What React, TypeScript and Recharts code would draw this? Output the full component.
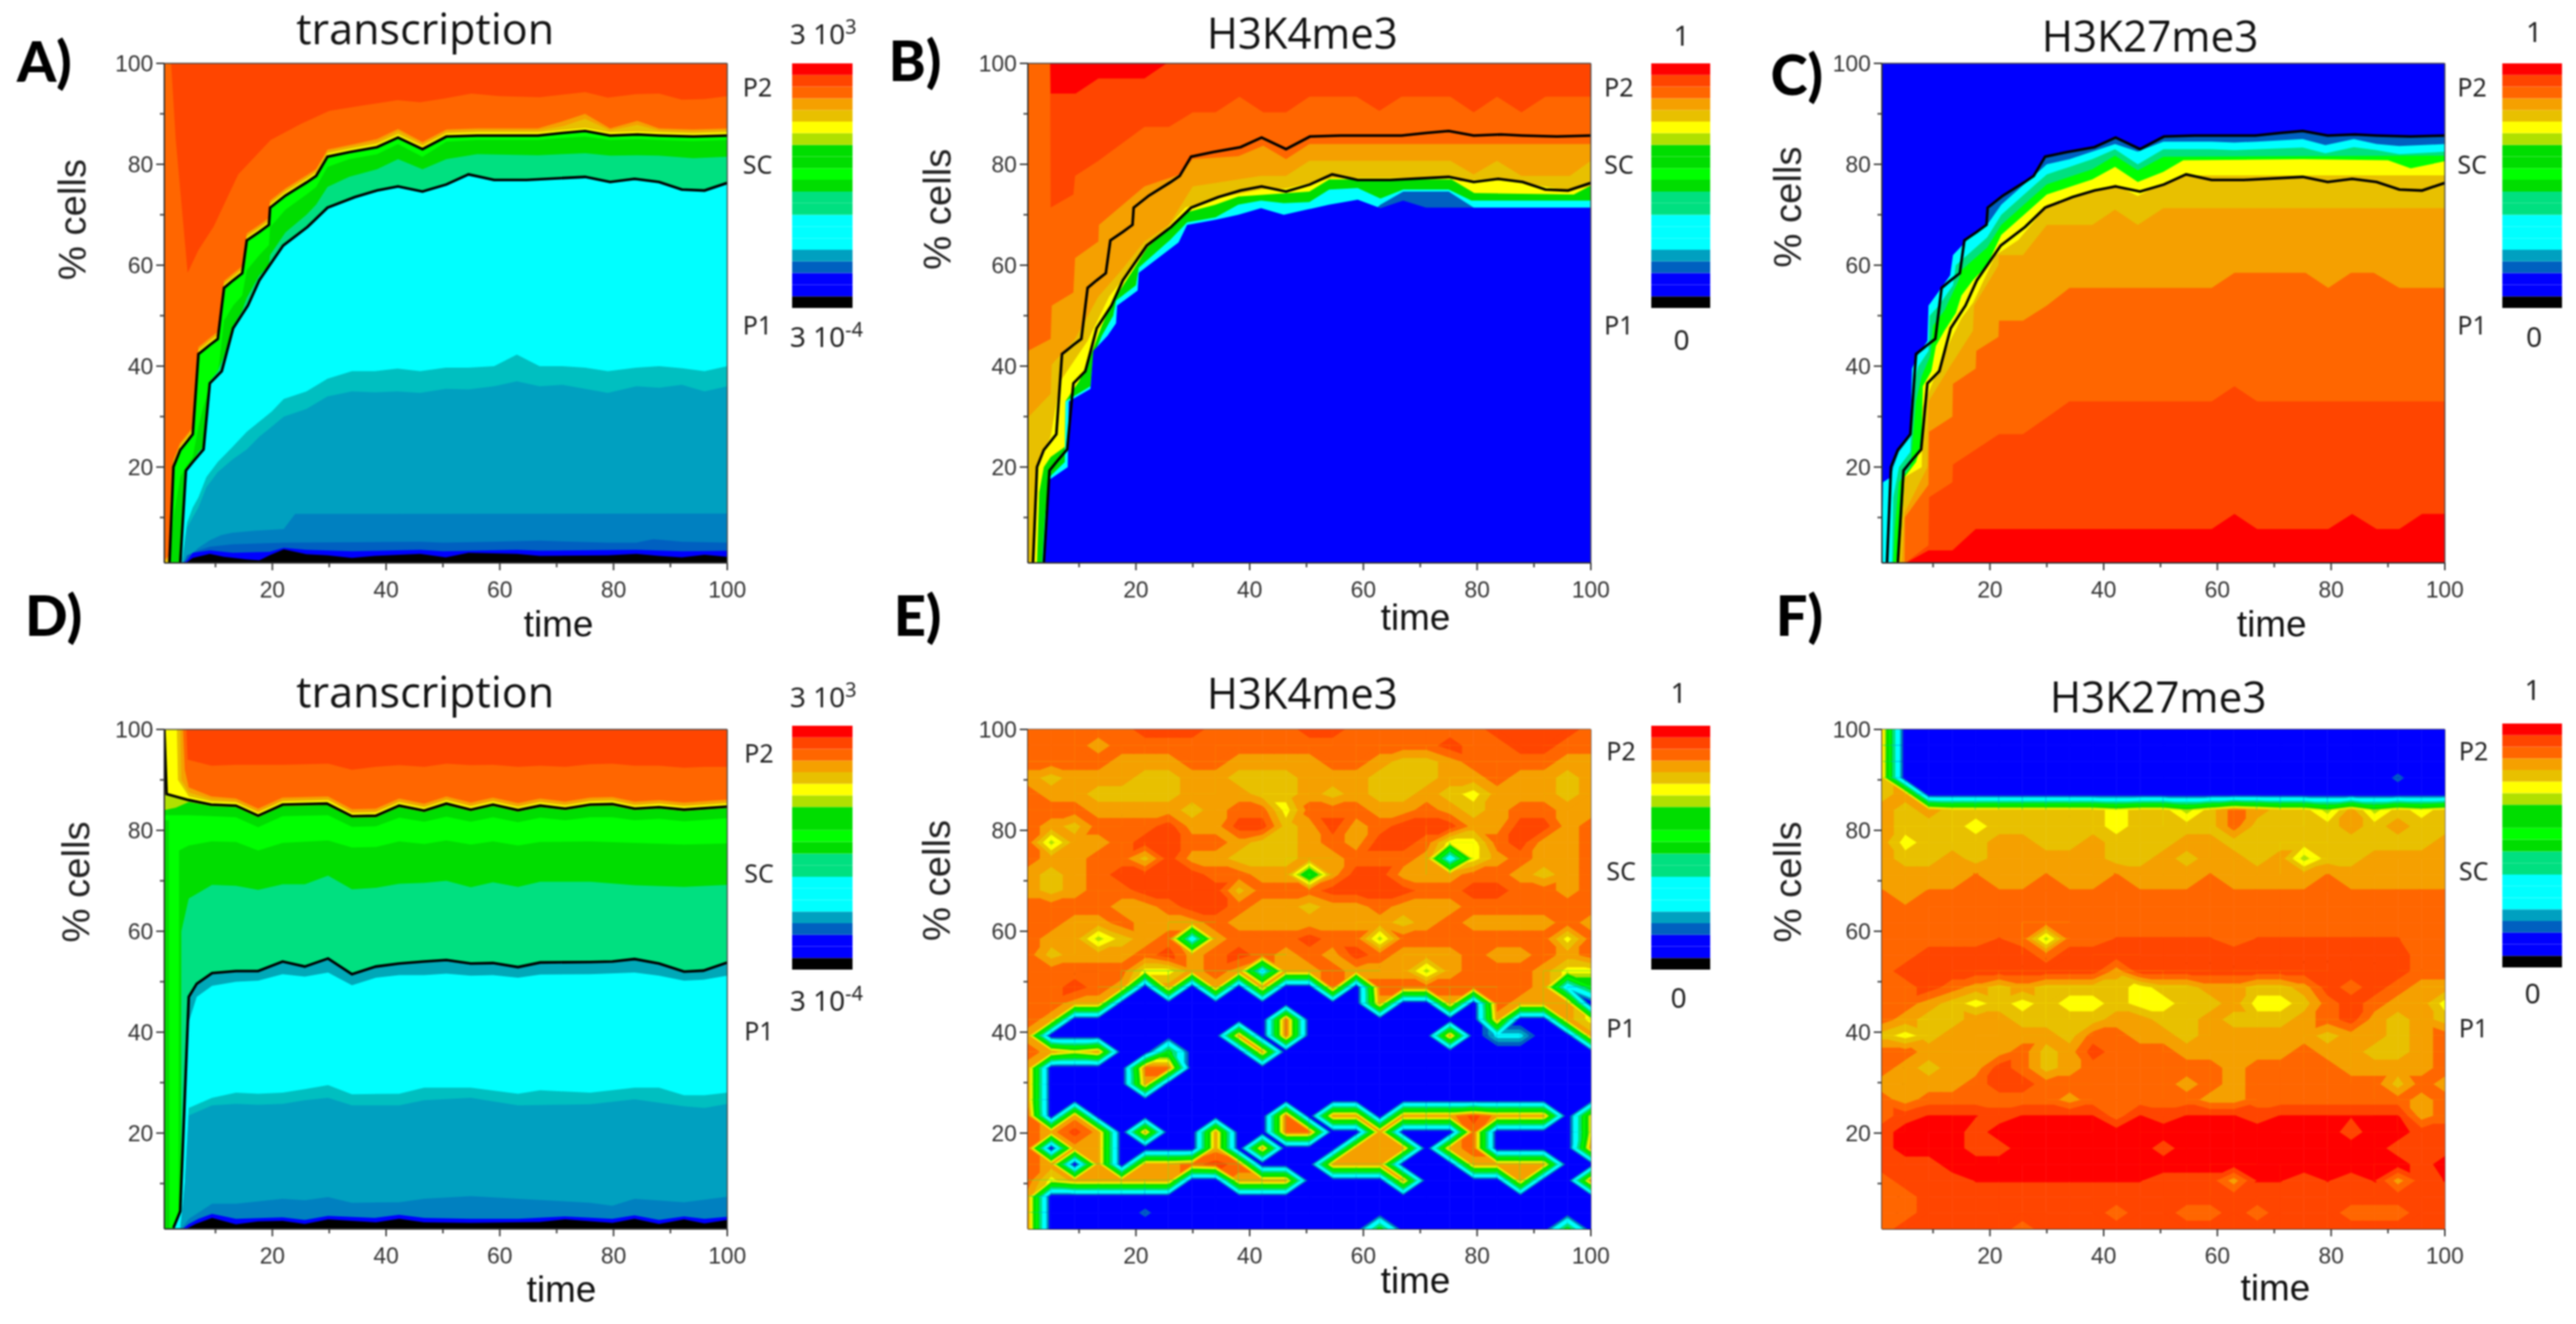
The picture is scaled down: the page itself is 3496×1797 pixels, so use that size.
import React from 'react';
import { ComposedChart, BarChart, Area, Line, Bar, Scatter, XAxis, YAxis, ReferenceLine } from 'recharts';

const C = { k: '#000000', b: '#0000ff', b2: '#0060c0', b3: '#0080c0', t1: '#00a0c0', t2: '#00bfc0', cy: '#00ffff', mi: '#00e080', gd: '#00dd00', gr: '#00ff00', li: '#b0e000', ye: '#ffff00', go: '#e8c000', am: '#f5a000', o1: '#ff6600', o2: '#ff4500', re: '#ff0000' };
const LEVEL_COLORS = [C.k, C.b, C.b, C.b2, C.t1, C.cy, C.cy, C.cy, C.mi, C.mi, C.gd, C.gr, C.gd, C.gd, C.li, C.ye, C.go, C.am, C.o1, C.o2, C.re];
const CHAR_LEVEL: Record<string, number> = { '.': 1.5, B: 3.5, c: 5.5, g: 11.5, l: 14.5, y: 15.5, d: 16.5, a: 17.5, n: 18.05, o: 18.5, m: 19.05, r: 19.5, Q: 20.05, R: 20.5 };

type Pair = number[];
const zip = (T: number[], Y: number[]) => T.map((t, i) => [t, Y[i]]);

// ---- boundary curves of the top row
const ABC_T = [1, 1.9, 2.6, 3.8, 4.8, 6, 7, 7.9, 9, 10.4, 11.5, 13.1, 14.7, 15.5, 17.7, 19.4, 19.6, 22.3, 26, 27.7, 29.7, 33.5, 38.4, 42.1, 46.4, 50.6, 56, 66.7, 71, 75, 79.4, 84.2, 88, 94, 100];
const ABC_U = [1, 1, 20, 23.4, 24.8, 26.5, 42.4, 43.2, 44.2, 45.4, 55.5, 57, 58.4, 64.9, 66.6, 68, 71.4, 73.8, 76.4, 77.7, 81.5, 82.4, 83.4, 85.3, 83, 85.5, 85.7, 85.7, 86.2, 86.6, 85.7, 85.9, 85.7, 85.5, 85.7];
const ABC_LT = [1, 3.8, 4.8, 6, 7, 7.9, 9, 11.1, 13.1, 15.7, 17.7, 21.9, 26.2, 29.7, 34.5, 38.4, 42.1, 46.4, 50.6, 54.5, 59, 64.7, 75, 79.4, 83.7, 88, 92, 96, 100];
const ABC_L = [1, 1, 19.3, 21, 22.3, 23.5, 36.6, 39, 47.5, 52, 57, 63.9, 67.6, 71.4, 73.5, 74.8, 75.6, 74.6, 76, 78, 76.9, 76.9, 77.5, 76.5, 77.1, 76.5, 75, 74.8, 76.3];

const A_O1: Pair[] = [[1, 100], [2.2, 100], [3, 85], [5.1, 58.5], [7, 63], [9.7, 67.7], [14, 78], [19.7, 84.8], [25, 88], [30, 90.6], [35.6, 91.6], [42, 92.7], [46, 92.3], [50, 93], [55, 94], [60, 93.5], [67, 93.3], [75, 94.3], [79, 93.2], [84, 93.9], [88, 94], [92, 92.8], [96, 92.9], [100, 93.5]];
const A_AM = [1.6, 2.5, 21.4, 24.8, 26.2, 27.9, 43.8, 44.6, 45.6, 46.8, 56.9, 58.4, 59.8, 66.3, 68, 69.4, 72.8, 75.2, 77.8, 79.1, 82.9, 83.8, 85, 87, 84.4, 86.9, 87.1, 87.1, 88.5, 90, 87.1, 88.6, 87.1, 86.9, 87.1];
const A_GO = [1.3, 2, 21, 24.4, 25.8, 27.5, 43.4, 44.2, 45.2, 46.4, 56.5, 58, 59.4, 65.9, 67.6, 69, 72.4, 74.8, 77.4, 78.7, 82.5, 83.4, 84.4, 86.5, 84, 86.5, 86.7, 86.7, 87.5, 89, 86.7, 87.8, 86.7, 86.5, 86.7];
const A_YE = [1, 1.5, 20.6, 24, 25.4, 27.1, 43, 43.8, 44.8, 46, 56.1, 57.6, 59, 65.5, 67.2, 68.6, 72, 74.4, 77, 78.3, 82.1, 83, 84, 85.9, 83.6, 86.1, 86.3, 86.3, 86.8, 87.2, 86.3, 86.5, 86.3, 86.1, 86.3];
const A_GD = [1, 1, 10, 18, 20, 22, 28, 32, 36, 38, 49, 52, 54, 59, 62, 64, 67.5, 71, 74, 75.5, 79.5, 81, 82, 84, 81.5, 84.5, 84.8, 84.8, 85.2, 85.5, 84.8, 85, 84.8, 84.6, 84.8];
const A_MI = [1, 1, 1, 1, 19.3, 21, 23, 24, 37, 39, 42, 48, 51, 53.5, 58, 60, 62, 66.5, 70, 72, 75.5, 77.5, 79, 81, 79, 81, 82, 81.8, 82, 82.2, 81.7, 81.8, 81.7, 81.2, 81.5];
const A_T2: Pair[] = [[1, 1], [4, 1], [5, 9], [6, 12], [7, 14], [8.4, 18], [10.4, 21], [13, 24], [15.5, 27], [17.7, 29], [19.9, 31], [22, 33.5], [26, 35], [29.7, 37.5], [34, 39], [38, 39], [42, 39.5], [46, 39], [50.5, 39.7], [54.5, 39.7], [59, 40], [63, 42.3], [67, 40], [71, 40], [75, 39.7], [79, 39], [84, 39.7], [88, 40], [92, 39.6], [96, 39], [100, 40]];
const A_T1: Pair[] = [[1, 1], [4.2, 1], [5, 8], [6, 10], [7, 12], [8.4, 16], [10.4, 19], [13, 21.5], [15.5, 23.5], [17.7, 26], [19.9, 28], [22, 30], [26, 31.5], [29.7, 34], [34, 35], [38, 34.8], [42, 35], [46, 34.7], [50.5, 35.5], [54.5, 35.4], [59, 36], [63, 37], [67, 36], [71, 36.3], [75, 35.5], [79, 34.7], [84, 36], [88, 35.7], [92, 36.3], [96, 35], [100, 36]];
const A_B3: Pair[] = [[1, 1], [4.2, 1], [5, 2], [7, 4], [9, 5.5], [11, 6.5], [13, 7], [17, 7.4], [22, 7.7], [24, 10.7], [100, 10.8]];
const A_B2: Pair[] = [[1, 1], [4.4, 1], [5, 2.5], [7, 3.5], [9, 4.2], [13, 4.7], [22, 5], [46, 5.2], [50, 5], [59, 5.2], [67, 5.4], [79, 5], [84, 5], [87, 5.7], [92, 5.2], [100, 5]];
const A_B1: Pair[] = [[1, 1], [4.4, 1], [5, 1.5], [6, 3], [9, 3.5], [13, 3], [19.5, 3.2], [22, 4], [26, 3.6], [34, 3.3], [46, 3.6], [50, 3.3], [63, 3.6], [67, 3.4], [84, 3.6], [92, 3.3], [100, 3.4]];
const A_K: Pair[] = [[1, 1], [4.8, 1], [6, 2], [9, 2.8], [11.5, 2.2], [15.5, 1.7], [17.7, 1.5], [19.5, 2.5], [22, 3.7], [26, 2.7], [29.7, 2.5], [34, 2], [38, 2.4], [46, 2.8], [50.5, 2.1], [54.5, 3], [63, 2.8], [67, 2.4], [79, 2.5], [84, 2.8], [88, 2.4], [92, 2.1], [96, 2.6], [100, 2.2]];

const B_O2: Pair[] = [[1, 100], [4.9, 100], [5, 94], [9.4, 94], [13.4, 97], [21.5, 97], [25.4, 100], [100, 100]];
const B_O1: Pair[] = [[1, 100], [4.9, 100], [5, 71.4], [9, 74], [9.3, 77.7], [13.4, 80.7], [21.5, 87.4], [25.8, 87.4], [30, 90.3], [34, 90.3], [38.2, 93.4], [42.4, 90.3], [46.4, 90.3], [50.5, 93.4], [58.8, 93.4], [62.8, 90.6], [66.7, 93.4], [75.3, 93.4], [79.4, 90.3], [83.5, 93.4], [87.8, 90.3], [92, 93.4], [100, 93.4]];
const B_AM: Pair[] = [[1, 43], [5, 45.4], [5.2, 52], [9, 54.6], [9.3, 61.4], [13.4, 64.7], [13.5, 68], [21.5, 75.6], [27.7, 78], [30, 81], [38, 81.6], [42.4, 83.7], [46.4, 81], [50.5, 84], [100, 84]];
const B_GO: Pair[] = [[1, 29.8], [5, 34.5], [5.2, 40.3], [9.3, 45.4], [13.4, 53.8], [17.3, 58.8], [21.5, 64.7], [25.8, 68], [30, 75.6], [42, 77.7], [46.4, 77.7], [50.5, 80.7], [75.3, 80.7], [79.4, 78], [83.5, 80.7], [87.8, 77.7], [96.3, 77.7], [100, 80.7]];
const B_YE: Pair[] = [[1, 1], [2, 1], [2.6, 20], [3.8, 23], [5, 26], [6.7, 37], [11.5, 45], [15.3, 53.8], [20, 60.5], [28.7, 71.4], [34.5, 73.4], [42, 75], [46.4, 75.2], [54.6, 77.3], [75.8, 77.3], [77, 76.6], [83.5, 77.3], [88, 76.3], [96, 74.8], [100, 75.6]];
const B_GD: Pair[] = [[1, 1], [2.6, 1], [3, 15], [3.8, 20], [5, 22], [7.5, 24], [7.6, 33], [10, 37], [12, 42], [14, 48], [16, 53], [19.5, 59], [22, 63.5], [26, 67.5], [29, 70.5], [34, 72], [38, 73.6], [50.5, 74.6], [54, 77], [75.5, 77], [79.5, 74.3], [97, 74], [100, 75.8]];
const B_CY: Pair[] = [[1, 1], [3.5, 1], [4, 10], [4.8, 18], [7.5, 21], [7.6, 33], [12, 36], [12.5, 42], [14, 46], [16, 50], [16.5, 53], [20, 56], [20.5, 59.5], [26, 65], [29, 68.5], [34, 69.5], [38, 72], [42, 72.8], [46, 72.3], [50.5, 72.5], [54, 75], [59, 75.3], [63, 73.2], [67, 75], [75, 75], [79, 72.8], [100, 72.8]];
const B_B2: Pair[] = [[62, 71], [63, 72], [67, 74.6], [75, 74.6], [79.3, 71.5], [80, 71]];
const B_B1: Pair[] = [[1, 1], [3.8, 1], [4.8, 17.5], [8, 20], [8.2, 33], [12, 35.5], [12.5, 43], [15, 46], [16.5, 48.5], [16.7, 52], [20.3, 55], [20.5, 58.5], [27.5, 64.5], [29, 68], [34, 69], [38, 70], [42, 71.3], [46, 70], [50, 71], [54, 72], [59, 73], [63, 71.3], [67, 72.8], [71, 71.4], [100, 71.4]];

const C_CY: Pair[] = [[1, 1], [1.2, 17], [2.6, 18], [3, 20], [4, 23], [6, 26], [6.3, 39.5], [7.2, 42], [9, 45], [9.2, 52], [10.5, 54], [13, 58], [13.5, 62], [16, 65], [19.5, 68], [22, 72], [26, 76], [28, 78], [30, 80], [34, 81], [38, 82.5], [42, 84], [46, 82.5], [50.5, 84.5], [59, 84.5], [63, 84.3], [67, 84.5], [75, 85], [79, 83.8], [84, 85], [88, 84], [92, 83.6], [100, 84]];
const C_MI: Pair[] = [[1, 1], [2.8, 1], [3, 14], [4, 20], [6, 23], [6.5, 36], [7.4, 40], [9.2, 43], [9.4, 50], [11, 52], [13.5, 56], [14, 60], [16, 62], [19.5, 65.5], [22, 70], [26, 74], [28, 76], [30, 78], [34, 79.5], [38, 81], [42, 83], [46, 80], [50.5, 83], [59, 83], [63, 82.8], [75, 83.3], [79, 82.2], [84, 83.4], [88, 82.8], [92, 82], [100, 82.5]];
const C_GR: Pair[] = [[1, 1], [3, 1], [3.3, 8], [4, 17], [6, 20], [7, 33], [8, 38], [9.5, 42], [10, 48], [12, 51], [14.5, 57], [15, 59], [17, 61], [19.5, 63.5], [22, 68], [26, 72], [28, 74], [30, 76], [34, 77.5], [38, 79], [42, 81.7], [46, 78.8], [50.5, 81.5], [100, 81.7]];
const C_YE: Pair[] = [[1, 1], [3.5, 1], [4.8, 10], [5, 18], [7, 21], [8, 25], [8.2, 36], [9.7, 39], [10.5, 44], [12, 47], [14, 50.5], [15, 54], [17, 57], [19.5, 60], [22, 66], [26, 70], [28, 72], [30, 74], [34, 75.5], [38, 77], [42, 79.5], [46, 76.5], [50.5, 78.5], [54, 80.8], [75, 81], [90, 80.8], [94, 79.2], [100, 80.6]];
const C_GO: Pair[] = [[1, 1], [4, 1], [5, 18], [8, 20], [8.2, 32], [10, 37], [13, 45], [15, 49.5], [17, 52.5], [21, 62], [25, 65], [28, 69], [30, 72], [34, 73], [42, 76], [46, 73.7], [50, 76], [54, 77.8], [100, 77.8]];
const C_AM: Pair[] = [[1, 1], [4.5, 1], [5, 11], [9, 20], [9.2, 33], [13, 40], [17, 47], [17.2, 52], [21.5, 60], [21.6, 62], [25.8, 62], [30, 68], [38, 68], [42, 71], [46, 68], [50.5, 71.3], [100, 71.3]];
const C_O1: Pair[] = [[5, 1], [5.05, 10], [9.2, 16.5], [9.3, 27], [13.4, 30], [13.5, 36.5], [17.5, 39.5], [17.6, 43], [21.5, 45.8], [21.6, 49], [25.8, 49], [30, 52], [34, 55.5], [59, 55.5], [63, 58.5], [75.5, 58.5], [79.5, 55.5], [83.5, 58.5], [87.5, 58.5], [92, 55.5], [100, 55.5]];
const C_O2: Pair[] = [[5.1, 1], [9.2, 4.5], [9.3, 14], [13.4, 17], [13.5, 20.5], [21.6, 26.5], [25.8, 26.5], [34, 33], [59, 33], [63, 36], [67, 33], [100, 33]];
const C_RE: Pair[] = [[5.2, 1], [9.2, 3.5], [13.4, 3.5], [17.5, 7.7], [59, 7.7], [63, 10.7], [67, 7.7], [79.5, 7.7], [83.7, 10.7], [88, 7.7], [92, 7.7], [96, 10.7], [100, 10.7]];

// ---- boundary curves of the bottom row
const DEF_T = [1, 1.4, 5.3, 9.2, 13.6, 17.5, 21.8, 29.6, 34, 38.2, 42.3, 46.7, 50.6, 54.9, 58.8, 63.2, 67.1, 71.5, 75.9, 79.8, 83.7, 88, 92.4, 100];
const DEF_U = [100, 87.2, 86, 85.1, 84.9, 82.9, 85.1, 85.3, 82.8, 82.9, 84.9, 83.9, 85.3, 84.1, 85.1, 84, 84.9, 84.3, 85.1, 85.2, 84.3, 84.6, 84.1, 84.7];
const DEF_LT = [2.6, 3.8, 5.3, 6.7, 9.4, 13.6, 17.5, 21.8, 25.7, 29.8, 34, 38.2, 42.3, 46.7, 50.6, 54.9, 58.8, 63.2, 67.1, 75.9, 79.8, 83.7, 88, 92.4, 95.8, 100];
const DEF_L = [1.2, 4.5, 47, 49.6, 51.7, 52.1, 52.1, 54, 53, 54.6, 51.5, 53, 53.6, 54, 54.3, 53.6, 53.7, 52.9, 53.8, 53.9, 54, 54.5, 53.6, 52, 52.2, 53.8];

const D_O1: Pair[] = [[1, 100], [4.9, 100], [5.1, 94], [9.3, 92.8], [13.6, 93], [17.5, 93], [21.8, 93], [29.8, 93.2], [34, 92], [38.2, 92.6], [42.3, 92.9], [46.7, 92.6], [50.6, 93.2], [54.9, 92.9], [58.8, 93], [63.2, 92.6], [67.1, 92.8], [71.5, 92.6], [75.9, 93.1], [79.8, 93.2], [83.7, 92.8], [88, 92.8], [92.4, 92.4], [96, 92.6], [100, 92.6]];
const D_AM: Pair[] = [[1, 100], [4.3, 100], [4.6, 92], [5.3, 88.5], [9.3, 86.7], [13.6, 86.3], [17.5, 84.3], [21.8, 86.5], [29.8, 86.7], [34, 84.2], [38.2, 84.3], [42.3, 86.3], [46.7, 85.3], [50.6, 86.7], [54.9, 85.5], [58.8, 86.5], [63.2, 85.4], [67.1, 86.3], [71.5, 85.7], [75.9, 86.5], [79.8, 86.6], [83.7, 85.7], [88, 86], [92.4, 85.5], [100, 86.1]];
const D_GO: Pair[] = [[1, 100], [3.8, 100], [4, 90], [5.3, 87.5], [9.3, 86.1], [13.6, 85.8], [17.5, 83.8], [21.8, 86], [29.8, 86.2], [34, 83.7], [38.2, 83.8], [42.3, 85.8], [46.7, 84.8], [50.6, 86.2], [54.9, 85], [58.8, 86], [63.2, 84.9], [67.1, 85.8], [71.5, 85.2], [75.9, 86], [79.8, 86.1], [83.7, 85.2], [88, 85.5], [92.4, 85], [100, 85.6]];
const D_YE: Pair[] = [[1, 100], [3.2, 100], [3.4, 90], [5.3, 86.7], [9.3, 85.7], [13.6, 85.5], [17.5, 83.5], [21.8, 85.7], [29.8, 85.9], [34, 83.4], [38.2, 83.5], [42.3, 85.5], [46.7, 84.5], [50.6, 85.9], [54.9, 84.7], [58.8, 85.7], [63.2, 84.6], [67.1, 85.5], [71.5, 84.9], [75.9, 85.7], [79.8, 85.8], [83.7, 84.9], [88, 85.2], [92.4, 84.7], [100, 85.3]];
const D_LI: Pair[] = [[1, 87], [1.4, 87.2], [5.3, 86], [9.2, 85.1], [13.6, 84.9], [17.5, 82.9], [21.8, 85.1], [29.6, 85.3], [34, 82.8], [38.2, 82.9], [42.3, 84.9], [46.7, 83.9], [50.6, 85.3], [54.9, 84.1], [58.8, 85.1], [63.2, 84], [67.1, 84.9], [71.5, 84.3], [75.9, 85.1], [79.8, 85.2], [83.7, 84.3], [88, 84.6], [92.4, 84.1], [100, 84.7]];
const D_GD1: Pair[] = [[1, 84], [3, 84.5], [5.3, 85.6], [9.2, 84.8], [13.6, 84.6], [17.5, 82.6], [21.8, 84.8], [29.6, 85], [34, 82.5], [38.2, 82.6], [42.3, 84.6], [46.7, 83.6], [50.6, 85], [54.9, 83.8], [58.8, 84.8], [63.2, 83.7], [67.1, 84.6], [71.5, 84], [75.9, 84.8], [79.8, 84.9], [83.7, 84], [88, 84.3], [92.4, 83.8], [100, 84.4]];
const D_GR: Pair[] = [[1, 83], [5.3, 83], [9.3, 82.8], [13.6, 82.6], [17.5, 80.6], [21.8, 82.8], [29.8, 83], [34, 80.7], [38.2, 80.8], [42.3, 82.5], [46.7, 81.7], [50.6, 82.7], [54.9, 81.7], [58.8, 82.6], [63.2, 81.6], [67.1, 82.5], [71.5, 82], [75.9, 82.6], [79.8, 82.6], [83.7, 82], [88, 82.3], [92.4, 81.8], [100, 82.4]];
const D_GD2: Pair[] = [[1, 1], [3.5, 1], [3.6, 76], [5.3, 77], [9.3, 77.8], [13.6, 77.7], [17.5, 76], [21.8, 77.5], [29.8, 78], [34, 76.6], [38.2, 76.7], [42.3, 77.8], [46.7, 77.3], [50.6, 78], [54.9, 77.2], [58.8, 77.8], [63.2, 77], [67.1, 77.7], [75.9, 77.8], [83.7, 77.5], [92.4, 77.2], [100, 77.4]];
const D_GDL: Pair[] = [[1, 82], [1.8, 82], [1.9, 1]];
const D_MI: Pair[] = [[1, 1], [3.9, 1], [4, 60], [5.3, 66.5], [9.4, 69.2], [13.6, 69], [17.5, 68.2], [21.8, 69.3], [25.7, 69.3], [29.8, 71], [34, 68.3], [38.2, 68.6], [42.3, 69.4], [46.7, 69.6], [50.6, 70], [54.9, 68.7], [58.8, 69.7], [63.2, 68.8], [67.1, 69.8], [75.9, 69.8], [83.7, 69.1], [92.4, 68.8], [100, 69.2]];
const D_CY: Pair[] = [[1, 1], [2.6, 1], [3.8, 4], [4.8, 30], [5.3, 42], [6.7, 47], [9.4, 49.2], [13.6, 50], [17.5, 50.2], [21.8, 51.5], [25.7, 51], [29.8, 51.8], [34, 49.3], [38.2, 50.8], [42.3, 51.3], [46.7, 51.3], [50.6, 51.6], [54.9, 51.2], [58.8, 51.3], [63.2, 50.8], [67.1, 51.4], [75.9, 51.5], [83.7, 51.8], [88, 51.2], [92.4, 50.2], [95.8, 50.4], [100, 51.2]];
const D_T2: Pair[] = [[1, 1], [3.8, 1], [4.6, 10], [5.3, 25], [9.4, 27], [13.6, 28], [17.5, 27.8], [21.8, 28], [25.7, 28.7], [29.8, 29.5], [34, 27.7], [42.3, 27.8], [46.7, 29], [54.9, 29], [63.2, 27.8], [67.1, 28.5], [75.9, 28], [83.7, 29], [88, 29], [92.4, 27.5], [96, 27.5], [100, 28]];
const D_T1: Pair[] = [[1, 1], [3.8, 1], [4.6, 10], [5.3, 23.5], [9.4, 25.5], [13.6, 25.8], [17.5, 25.6], [21.8, 25.8], [25.7, 26.5], [29.8, 27], [34, 25.5], [42.3, 25.5], [46.7, 26.5], [54.9, 27], [63.2, 25.5], [75.9, 25.7], [83.7, 26.7], [92.4, 25.3], [96, 25], [100, 25.8]];
const D_B3: Pair[] = [[1, 1], [4, 1], [5.3, 3], [9.4, 6], [13.6, 6], [21.8, 7], [25.7, 6.7], [29.8, 7.3], [34, 6.2], [42.3, 6.3], [46.7, 7], [54.9, 7.5], [63.2, 7], [75.9, 6.2], [79.8, 5.6], [83.7, 7], [92.4, 6.3], [100, 7.4]];
const D_B1: Pair[] = [[1, 1], [4.2, 1], [5.3, 2], [7, 3], [9.4, 4], [13.6, 3], [21.8, 3.3], [25.7, 2.8], [29.8, 3.6], [38, 3.2], [42.3, 3.8], [46.7, 3.2], [54.9, 3], [63.2, 3], [71.5, 3.5], [79.8, 3], [83.7, 3.7], [88, 2.8], [92.4, 3.5], [96, 3], [100, 3.4]];
const D_K: Pair[] = [[1, 1], [4.8, 1], [6.5, 2], [9.4, 3.2], [13.6, 1.9], [17.5, 2.5], [21.8, 2.6], [25.7, 2], [29.8, 2.9], [38.2, 2.3], [42.3, 3], [46.7, 2.3], [54.9, 2.2], [67, 2.4], [71.5, 2.9], [79.8, 2.2], [83.7, 3], [88, 2], [92.4, 2.9], [96, 2.1], [100, 2.8]];

// ---- contour grids of panels E and F (top row first)
const GRID_T = [1, 5.1, 9.25, 13.4, 17.5, 21.6, 25.75, 29.9, 34, 38.1, 42.25, 46.4, 50.5, 54.6, 58.75, 62.9, 67, 71.1, 75.25, 79.4, 83.5, 87.6, 91.75, 95.9, 100];
const GRID_Y = [100, 96.8, 93.6, 90.4, 87.2, 84, 80.8, 77.6, 74.4, 71.2, 68, 64.9, 61.7, 58.5, 55.3, 52.1, 48.9, 45.7, 42.5, 39.3, 36.1, 32.9, 29.7, 26.5, 23.4, 20.2, 17, 13.8, 10.6, 7.4, 4.2, 1];
const E_ROWS = [
  'ooooo rrroo oorro ooooo rrrro', 'oooao ooooo ooooo oooro orroo', 'ooooa aaooa aaaoo addao oooaa', 'adaaa ddaad ddaaa dddaa oaada',
  'oaadd ddaaa ddada ddady aaada', 'oooaa aadao oyooo aaoad aooaa', 'oadoo oraar rdara orrra arrao', 'olaao rrooa ddaoa rroyy oraao',
  'oaaoo draad ddaao ooacy aoaao', 'adaor rrroo aagar raaao oadao', 'adaoo rrrrd ooorr rroor rooao', 'ooooa aorro aadaa oaaao ooooo',
  'ooaao aaaoa aaaaa adaoa aaaoa', 'oaald aocao ooroo loooo oooyo', 'odaaa oraor oaoar oaaao aaoao', 'ooooo yyaoa caaoa aalao ooayy',
  'ooroa .a.a. a..o. ooooo ooacg', 'ooaa. ..... ..... a..a. oaaa.', 'oa... ..... .o... ..... a..ay', 'a.... ....a .o... ...a. cc..a',
  'oaya. .g... a.... ..... .....', 'a.... oo... ..... ..... .....', 'a.... a.... ..... ..... .....', 'a.... ..... ..... ..... .....',
  'o.a.. ..... .o.aa .aaar aaa.y', 'oara. a..a. .oo.. a...o ....y', 'o.aa. ...a. a...a aa.ao ....a', 'oa.a. aaoro ...aa a...a aaa..',
  'oyaaa aa..a aa... .a... .a..o', 'a.... ..... ..... ..... .....', 'a.... B.... ..... ..... .....', 'a.... ..... ..... g.... ...g.',
];
const F_ROWS = [
  'd.... ..... ..... ..... .....', 'd.... ..... ..... ..... .....', 'd.... ..... ..... ..... .....', 'd.... ..... ..... ..... ..B..',
  'da... ..... ..... ..... .....', 'adadd ddddd yddld oaddl aldyd', 'adddy ddddd ydddd odddd adadd', 'ayddd aadda dddaa ddddd dddda',
  'addad aaaaa ddada adald daaaa', 'aaaan aanaa naaan aaaan aaaaa', 'nannn nnnnn nnnnn nnnnn nnnnn', 'onooo ooooo ooooo ooooo ooooo',
  'ooooo ooooo ooooo ooooo ooooo', 'ooooo moloo mmmmm ommmm mmmoo', 'oorrr rrorr rrrrr rrrrr rrroo', 'orrrr rrrrr arrrr rrrrr rrroo',
  'ooroa daddd dydda addar oroaa', 'ooady dydyy dyydd ayydo roaay', 'oadda adddd aadda dddao radad', 'dydaa aaado oaada aaaad aadao',
  'ooaaa aodar oooaa aaaoa addao', 'oadaa rodao ooooo aoooo aaaao', 'aaaao rrooo oooao aoooo oodoa', 'oaooo oooao ooooa aoooo oooao',
  'orQQQ rQQQQ oQrQQ QrQQQ QQQao', 'rRRRr RRRRR RRRRR RRRRR rRRrr', 'rRRRr rRRRR RRrRR RRRRR RRrrr', 'rrrRR RRRRR RRRRR RRRRR RRRrR',
  'orrrQ QQQQQ QQrrr aQQrQ rQarQ', 'oorrr rrrrr rrrrr rrrrr rrrrr', 'oorrr rrrrr orroo rorrr ooorr', 'orrrr rorrr rrrrr rrrrr rrrrr',
];

const COLORBAR_KEYS = LEVEL_COLORS.map((_, i) => 'l' + i);
const COLORBAR_VALUES = LEVEL_COLORS.map(() => 1);
const X_TICKS = [10, 20, 30, 40, 50, 60, 70, 80, 90, 100];
const Y_TICKS = [10, 20, 30, 40, 50, 60, 70, 80, 90, 100];

const PW = 764, PH = 678;
const pts = (pairs: Pair[]) => pairs.map(([t, y]) => ({ t, y }));

function gridPoints(rows: string[]) {
  const m = rows.map((r) => r.replace(/ /g, '').split('').map((c) => CHAR_LEVEL[c]));
  const out: any[] = [];
  for (let i = 0; i < m.length - 1; i++) {
    for (let j = 0; j < GRID_T.length - 1; j++) {
      out.push({ t: GRID_T[j], y: GRID_Y[i + 1], v: [m[i + 1][j], m[i + 1][j + 1], m[i][j + 1], m[i][j]] });
    }
  }
  return out;
}

function clipAbove(tri: number[][], l: number) {
  const res: number[][] = [];
  for (let i = 0; i < 3; i++) {
    const a = tri[i], b = tri[(i + 1) % 3];
    if (a[2] >= l) res.push(a);
    if ((a[2] >= l) !== (b[2] >= l)) {
      const f = (l - a[2]) / (b[2] - a[2]);
      res.push([a[0] + f * (b[0] - a[0]), a[1] + f * (b[1] - a[1]), l]);
    }
  }
  return res;
}

function ContourCell(props: any) {
  const { cx, cy, payload } = props;
  const dx = PW / 24, dy = PH / 31;
  const [a, b, c, d] = payload.v;
  const bl = [cx, cy, a], br = [cx + dx, cy, b], tr = [cx + dx, cy - dy, c], tl = [cx, cy - dy, d];
  const sBD = Math.abs(b - d), sAC = Math.abs(a - c);
  const useBD = Math.abs(sBD - sAC) < 0.01 ? b + d >= a + c : sBD < sAC;
  const tris = useBD ? [[bl, br, tl], [br, tr, tl]] : [[bl, br, tr], [bl, tr, tl]];
  const lo = Math.floor(Math.min(a, b, c, d)), hi = Math.floor(Math.max(a, b, c, d));
  const parts: any[] = [<rect key="b" x={cx} y={cy - dy} width={dx} height={dy} fill={LEVEL_COLORS[lo]} stroke={LEVEL_COLORS[lo]} strokeWidth={0.6} />];
  for (let l = lo + 1; l <= hi; l++) {
    if (LEVEL_COLORS[l] === LEVEL_COLORS[l - 1]) continue;
    let path = '';
    tris.forEach((t) => {
      const poly = clipAbove(t, l);
      if (poly.length > 2) path += 'M' + poly.map((p) => p[0].toFixed(1) + ' ' + p[1].toFixed(1)).join('L') + 'Z';
    });
    if (path) parts.push(<path key={l} d={path} fill={LEVEL_COLORS[l]} stroke={LEVEL_COLORS[l]} strokeWidth={0.6} />);
  }
  return <g>{parts}</g>;
}

const TICK_STYLE = { fontFamily: '"Liberation Sans", Arial, sans-serif', fontSize: 31, fill: '#333' };
function XTick({ x, y, payload }: any) {
  const major = payload.value % 20 === 0;
  return (
    <g>
      <line x1={x} x2={x} y1={y} y2={y + (major ? 10 : 6)} stroke="#333" strokeWidth={2} />
      {major && <text x={x} y={y + 47} textAnchor="middle" {...TICK_STYLE}>{payload.value}</text>}
    </g>
  );
}
function YTick({ x, y, payload }: any) {
  const major = payload.value % 20 === 0;
  return (
    <g>
      <line x1={x} x2={x - (major ? 11 : 6)} y1={y} y2={y} stroke="#333" strokeWidth={2} />
      {major && <text x={x - 15} y={y + 11} textAnchor="end" {...TICK_STYLE}>{payload.value}</text>}
    </g>
  );
}

type BandDef = [Pair[], string];
function Panel({ left, top, bands, grid, lineU, lineL }: { left: number; top: number; bands?: BandDef[]; grid?: any[]; lineU: Pair[]; lineL: Pair[] }) {
  const ml = 100, mt = 30, mr = 40, mb = 70;
  return (
    <div style={{ position: 'absolute', left: left - ml, top: top - mt }}>
      <ComposedChart width={PW + ml + mr} height={PH + mt + mb} margin={{ left: 0, top: mt, right: mr, bottom: 0 }}>
        <XAxis dataKey="t" type="number" domain={[1, 100]} ticks={X_TICKS} interval={0} allowDataOverflow height={mb} tickSize={0} tickMargin={0} tick={<XTick />} axisLine={{ stroke: '#333', strokeWidth: 2 }} />
        <YAxis dataKey="y" type="number" domain={[1, 100]} ticks={Y_TICKS} interval={0} allowDataOverflow width={ml} tickSize={0} tickMargin={0} tick={<YTick />} axisLine={{ stroke: '#333', strokeWidth: 2 }} />
        {(bands || []).map(([p, col], i) => (
          <Area key={i} data={pts(p)} dataKey="y" type="linear" baseValue={1} fill={col} fillOpacity={1} stroke="none" dot={false} activeDot={false} isAnimationActive={false} />
        ))}
        {grid && <Scatter data={grid} dataKey="y" shape={<ContourCell />} isAnimationActive={false} />}
        <Line data={pts(lineU)} dataKey="y" type="linear" stroke="#000" strokeWidth={3.6} dot={false} activeDot={false} isAnimationActive={false} />
        <Line data={pts(lineL)} dataKey="y" type="linear" stroke="#000" strokeWidth={3.6} dot={false} activeDot={false} isAnimationActive={false} />
        <ReferenceLine y={100} stroke="#444" strokeWidth={1.5} />
        <ReferenceLine x={100} stroke="#444" strokeWidth={1.5} />
      </ComposedChart>
    </div>
  );
}

function ColorBar({ left, top, width, height }: { left: number; top: number; width: number; height: number }) {
  const row: any = { c: 'bar' };
  COLORBAR_KEYS.forEach((k, i) => { row[k] = COLORBAR_VALUES[i]; });
  return (
    <div style={{ position: 'absolute', left, top }}>
      <BarChart width={width} height={height} data={[row]} margin={{ left: 0, right: 0, top: 0, bottom: 0 }} barCategoryGap={0}>
        <XAxis dataKey="c" hide />
        <YAxis hide domain={[0, 21]} />
        {COLORBAR_KEYS.map((k, i) => <Bar key={k} dataKey={k} stackId="a" fill={LEVEL_COLORS[i]} isAnimationActive={false} />)}
      </BarChart>
    </div>
  );
}

const FONT_TITLE = '"Open Sans", sans-serif';
const FONT_ARIAL = '"Liberation Sans", Arial, sans-serif';
const FONT_LABEL = 'Lato, sans-serif';

const TITLES = [
  ['transcription', 402, 350, 60], ['H3K4me3', 1638, 259, 66], ['H3K27me3', 2771, 294, 70],
  ['transcription', 402, 350, 960], ['H3K4me3', 1638, 259, 962], ['H3K27me3', 2782, 294, 967],
] as [string, number, number, number][];
const PANEL_LABELS = [
  ['A)', 23, 111], ['B)', 1206, 110], ['C)', 2403, 129], ['D)', 34, 863], ['E)', 1213, 863], ['F)', 2410, 863],
] as [string, number, number][];
const YLABELS = [[102, 298], [1276, 284], [2430, 281], [107, 1197], [1275, 1195], [2430, 1197]];
const XLABELS = [[758, 864], [1921, 855], [3083, 864], [762, 1767], [1921, 1755], [3088, 1765]];
const SIDE = [
  [1008, 122, 227, 445], [2177, 122, 227, 445], [3335, 122, 227, 445],
  [1010, 1026, 1189, 1403], [2180, 1023, 1186, 1399], [3337, 1023, 1186, 1399],
];
const BAR_BOXES = [
  [1075, 86, 82, 332], [2241, 86, 80, 332], [3396, 86, 81, 332],
  [1075, 985, 82, 331], [2241, 985, 80, 331], [3396, 982, 81, 331],
];
const LOG_LABELS = [[1072, 60, 471], [1072, 960, 1372]];
const UNIT_LABELS = [[2282, 62, 475], [3439, 57, 471], [2278, 954, 1368], [3437, 950, 1362]];

function Overlay() {
  const numStyle = { fontFamily: '"Noto Sans", sans-serif', fontSize: 38, fill: '#222' };
  return (
    <svg width={3496} height={1797} style={{ position: 'absolute', left: 0, top: 0, pointerEvents: 'none' }}>
      {TITLES.map(([s, x, w, y], i) => (
        <text key={i} x={x} y={y} textLength={w} lengthAdjust="spacingAndGlyphs" fontFamily={FONT_TITLE} fontSize={58} fill="#111">{s}</text>
      ))}
      {PANEL_LABELS.map(([s, x, y], i) => (
        <text key={i} x={x} y={y} fontFamily={FONT_LABEL} fontWeight={900} fontSize={76} fill="#000">{s}</text>
      ))}
      {YLABELS.map(([x, y], i) => (
        <text key={i} x={x} y={y} transform={`rotate(-90 ${x} ${y})`} textAnchor="middle" dominantBaseline="middle" fontFamily={FONT_ARIAL} fontSize={52} fill="#222">% cells</text>
      ))}
      {XLABELS.map(([x, y], i) => (
        <text key={i} x={x} y={y} textAnchor="middle" fontFamily={FONT_ARIAL} fontSize={50} fill="#111">time</text>
      ))}
      {SIDE.map(([x, p2, sc, p1], i) => (
        <g key={i} fontFamily='"Noto Sans", sans-serif' fontSize={34} fill="#222" dominantBaseline="middle">
          <text x={x} y={p2}>P2</text>
          <text x={x} y={sc}>SC</text>
          <text x={x} y={p1}>P1</text>
        </g>
      ))}
      {LOG_LABELS.map(([x, t, b], i) => (
        <g key={i} {...numStyle}>
          <text x={x} y={t}>3 10<tspan dy={-14} fontSize={27}>3</tspan></text>
          <text x={x} y={b}>3 10<tspan dy={-14} fontSize={27}>-4</tspan></text>
        </g>
      ))}
      {UNIT_LABELS.map(([x, t, b], i) => (
        <g key={i} {...numStyle} textAnchor="middle">
          <text x={x} y={t}>1</text>
          <text x={x} y={b}>0</text>
        </g>
      ))}
    </svg>
  );
}

const FULL: Pair[] = [[1, 100], [100, 100]];
const A_BANDS: BandDef[] = [
  [FULL, C.o2], [A_O1, C.o1], [zip(ABC_T, A_AM), C.am], [zip(ABC_T, A_GO), C.go], [zip(ABC_T, A_YE), C.ye],
  [zip(ABC_T, ABC_U), C.gr], [zip(ABC_T, A_GD), C.gd], [zip(ABC_T, A_MI), C.mi], [zip(ABC_LT, ABC_L), C.cy],
  [A_T2, C.t2], [A_T1, C.t1], [A_B3, C.b3], [A_B2, C.b2], [A_B1, C.b], [A_K, C.k],
];
const B_BANDS: BandDef[] = [
  [FULL, C.re], [B_O2, C.o2], [B_O1, C.o1], [B_AM, C.am], [B_GO, C.go], [B_YE, C.ye], [B_GD, C.gd], [B_CY, C.cy], [B_B2, C.b2], [B_B1, C.b],
];
const C_BANDS: BandDef[] = [
  [FULL, C.b], [zip(ABC_T, ABC_U), C.b2], [C_CY, C.cy], [C_MI, C.mi], [C_GR, C.gr], [C_YE, C.ye], [C_GO, C.go], [C_AM, C.am], [C_O1, C.o1], [C_O2, C.o2], [C_RE, C.re],
];
const D_BANDS: BandDef[] = [
  [FULL, C.o2], [D_O1, C.o1], [D_AM, C.am], [D_GO, C.go], [D_YE, C.ye], [D_LI, C.li], [D_GD1, C.gd], [D_GR, C.gr], [D_GD2, C.gd], [D_GDL, C.gd], [D_MI, C.mi],
  [zip(DEF_LT, DEF_L), '#00a8b8'], [D_CY, C.cy], [D_T2, C.t2], [D_T1, C.t1], [D_B3, C.b3], [D_B1, C.b], [D_K, C.k],
];

export default function App() {
  const lineUtop = zip(ABC_T, ABC_U).slice(1);
  const lineLtop = zip(ABC_LT, ABC_L).slice(1);
  const lineUbot = zip(DEF_T, DEF_U);
  const lineLbot = zip(DEF_LT, DEF_L);
  return (
    <div style={{ position: 'absolute', left: 0, top: 0, width: 3496, height: 1797, background: '#fff', overflow: 'hidden', filter: 'blur(0.8px)' }}>
      <Panel left={223} top={86} bands={A_BANDS} lineU={lineUtop} lineL={lineLtop} />
      <Panel left={1395} top={86} bands={B_BANDS} lineU={lineUtop} lineL={lineLtop} />
      <Panel left={2554} top={86} bands={C_BANDS} lineU={lineUtop} lineL={lineLtop} />
      <Panel left={223} top={990} bands={D_BANDS} lineU={lineUbot} lineL={lineLbot} />
      <Panel left={1395} top={990} grid={gridPoints(E_ROWS)} lineU={lineUbot} lineL={lineLbot} />
      <Panel left={2554} top={990} grid={gridPoints(F_ROWS)} lineU={lineUbot} lineL={lineLbot} />
      {BAR_BOXES.map(([l, t, w, h], i) => <ColorBar key={i} left={l} top={t} width={w} height={h} />)}
      <Overlay />
    </div>
  );
}
